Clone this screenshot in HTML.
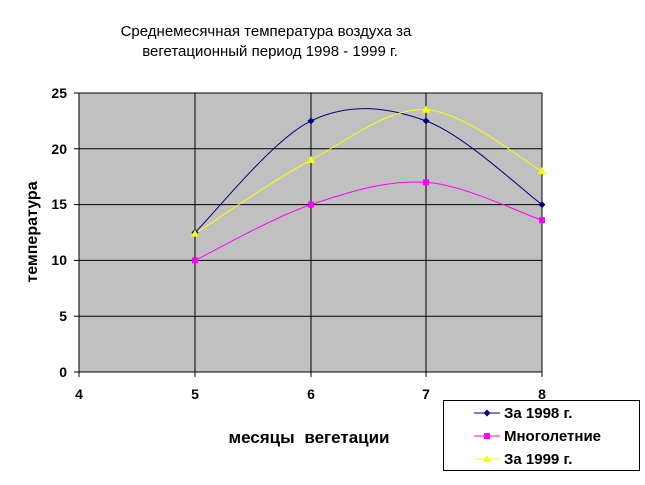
<!DOCTYPE html>
<html><head><meta charset="utf-8"><style>body{margin:0;background:#fff}</style></head><body>
<svg width="645" height="480" xmlns="http://www.w3.org/2000/svg" font-family="Liberation Sans, sans-serif">
<rect width="645" height="480" fill="#fff"/>
<text x="266" y="36" font-size="15" text-anchor="middle">Среднемесячная температура воздуха за</text>
<text x="270" y="56" font-size="15" text-anchor="middle">вегетационный период 1998 - 1999 г.</text>
<rect x="79" y="93" width="463" height="279" fill="#c0c0c0" stroke="#808080"/>
<g stroke="#000" stroke-width="1">
<line x1="79" y1="316.2" x2="542" y2="316.2"/><line x1="79" y1="260.4" x2="542" y2="260.4"/>
<line x1="79" y1="204.6" x2="542" y2="204.6"/><line x1="79" y1="148.8" x2="542" y2="148.8"/>
<line x1="79" y1="93" x2="542" y2="93"/>
<line x1="195" y1="93" x2="195" y2="372"/><line x1="311" y1="93" x2="311" y2="372"/>
<line x1="426" y1="93" x2="426" y2="372"/><line x1="542" y1="93" x2="542" y2="372"/>
<line x1="79" y1="93" x2="79" y2="372"/><line x1="79" y1="372" x2="542" y2="372"/>
<line x1="79" y1="372" x2="79" y2="377"/><line x1="195" y1="372" x2="195" y2="377"/><line x1="311" y1="372" x2="311" y2="377"/><line x1="426" y1="372" x2="426" y2="377"/><line x1="542" y1="372" x2="542" y2="377"/>
<line x1="74" y1="372" x2="79" y2="372"/><line x1="74" y1="316.2" x2="79" y2="316.2"/><line x1="74" y1="260.4" x2="79" y2="260.4"/><line x1="74" y1="204.6" x2="79" y2="204.6"/><line x1="74" y1="148.8" x2="79" y2="148.8"/><line x1="74" y1="93" x2="79" y2="93"/>
</g>
<g font-size="14" font-weight="bold" text-anchor="end">
<text x="67" y="377">0</text><text x="67" y="321">5</text><text x="67" y="265">10</text><text x="67" y="209">15</text><text x="67" y="154">20</text><text x="67" y="98">25</text>
</g>
<g font-size="14" font-weight="bold" text-anchor="middle">
<text x="79" y="399">4</text><text x="195" y="399">5</text><text x="311" y="399">6</text><text x="426" y="399">7</text><text x="542" y="399">8</text>
</g>
<text x="309" y="443" font-size="17" font-weight="bold" text-anchor="middle" word-spacing="5">месяцы  вегетации</text>
<text transform="translate(37,232) rotate(-90)" font-size="16" font-weight="bold" text-anchor="middle">температура</text>
<path d="M195,232.5 C214.3,213.9 272.5,139.5 311,120.9 C349.5,102.3 387.5,106.9 426,120.9 C464.5,134.9 522.7,190.6 542,204.6" fill="none" stroke="#000080"/>
<path d="M195,260.4 C214.3,251.1 272.5,217.6 311,204.6 C349.5,191.6 387.5,179.7 426,182.3 C464.5,184.9 522.7,213.9 542,220.2" fill="none" stroke="#ff00ff"/>
<path d="M195,233.6 C214.3,221.3 272.5,180.65 311,160 C349.5,139.35 387.5,107.85 426,109.7 C464.5,111.55 522.7,160.87 542,171.1" fill="none" stroke="#ffff00"/>
<g fill="#000080">
<polygon points="195,229 198.5,232.5 195,236 191.5,232.5"/><polygon points="311,117.4 314.5,120.9 311,124.4 307.5,120.9"/><polygon points="426,117.4 429.5,120.9 426,124.4 422.5,120.9"/><polygon points="542,201.1 545.5,204.6 542,208.1 538.5,204.6"/>
</g>
<g fill="#ff00ff">
<rect x="192" y="257.4" width="6" height="6"/><rect x="308" y="201.6" width="6" height="6"/><rect x="423" y="179.3" width="6" height="6"/><rect x="539" y="217.2" width="6" height="6"/>
</g>
<g fill="#ffff00">
<polygon points="195,229.6 199,236.6 191,236.6"/><polygon points="311,156 315,163 307,163"/><polygon points="426,105.7 430,112.7 422,112.7"/><polygon points="542,167.1 546,174.1 538,174.1"/>
</g>
<rect x="443.5" y="400.5" width="196" height="70" fill="#fff" stroke="#000"/>
<line x1="474" y1="413" x2="500" y2="413" stroke="#000080"/><polygon points="487,409.5 490.5,413 487,416.5 483.5,413" fill="#000080"/>
<line x1="474" y1="436" x2="500" y2="436" stroke="#ff00ff"/><rect x="484" y="433" width="6" height="6" fill="#ff00ff"/>
<line x1="474" y1="459" x2="500" y2="459" stroke="#ffff00"/><polygon points="487,455 491,462 483,462" fill="#ffff00"/>
<g font-size="15" font-weight="bold">
<text x="504" y="418">За 1998 г.</text><text x="504" y="441">Многолетние</text><text x="504" y="464">За 1999 г.</text>
</g>
</svg>
</body></html>
